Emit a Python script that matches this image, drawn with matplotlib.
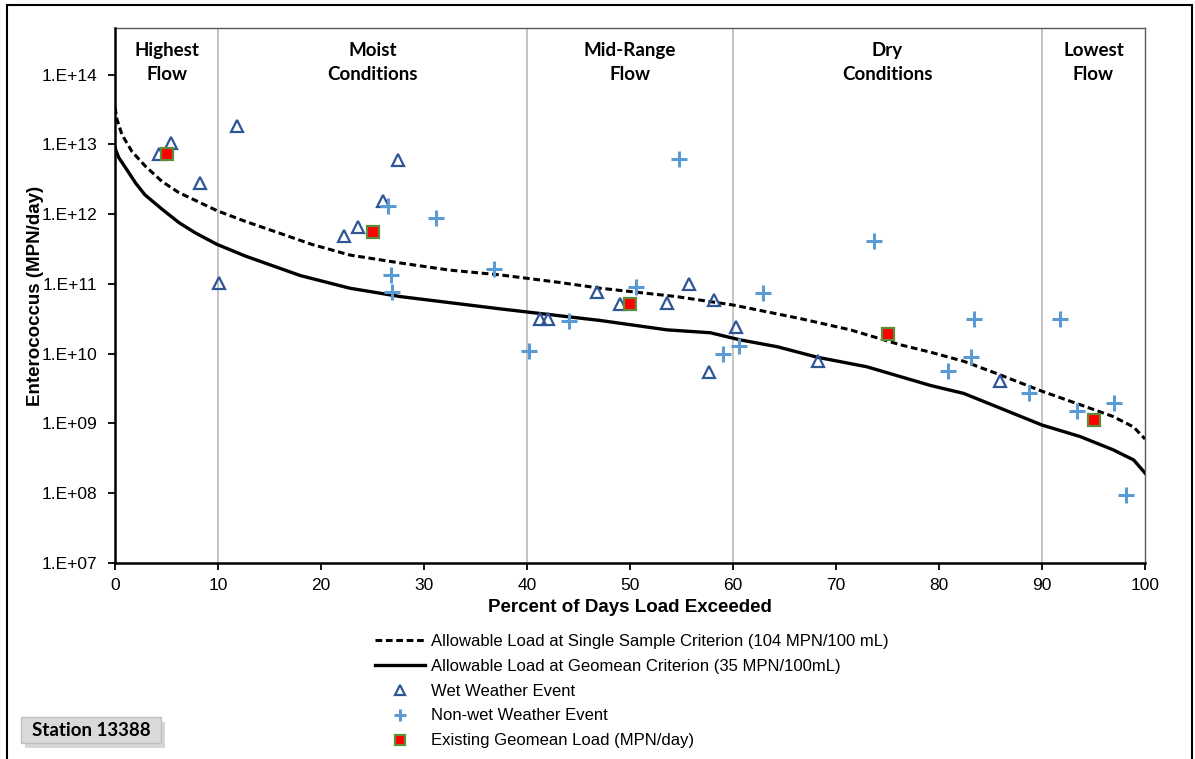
import numpy as np
import matplotlib
matplotlib.use('Agg')
import matplotlib.pyplot as plt
from matplotlib.patches import Rectangle
from matplotlib.lines import Line2D
from matplotlib.ticker import FuncFormatter, FixedLocator

plt.rcParams['font.family'] = ['Liberation Sans', 'DejaVu Sans']

# allowable load curves (percent of days exceeded, MPN/day)
single_x = [0, 0.19, 0.68, 1.65, 2.94, 4.56, 6.18, 7.8, 9.93, 12.65, 15.9, 19.1, 22.8,
            27.7, 32.5, 37.4, 43.2, 47.1, 54.5, 60, 66.5, 71.4, 76.2, 79.2, 82.4, 85.6,
            90, 93.7, 96.9, 98.9, 100]
single_y = [3.4e13, 2.3e13, 1.38e13, 7.9e12, 4.9e12, 2.95e12, 2.05e12, 1.58e12, 1.12e12,
            7.9e11, 5.4e11, 3.7e11, 2.6e11, 2.0e11, 1.58e11, 1.35e11, 1.05e11, 8.7e10,
            6.6e10, 5.0e10, 3.2e10, 2.2e10, 1.35e10, 1.05e10, 7.8e9, 5.2e9, 2.9e9,
            1.86e9, 1.26e9, 8.9e8, 6.0e8]

geomean_x = [0, 0.36, 1.0, 2.0, 2.9, 4.6, 6.2, 7.8, 9.9, 12.7, 15.9, 18.0, 22.8, 27.7,
             32.5, 37.4, 43.2, 47.1, 53.6, 57.8, 60.7, 64.3, 68.2, 73.0, 79.2, 82.4,
             85.6, 90.0, 93.7, 96.9, 98.9, 100]
geomean_y = [8.9e12, 6.5e12, 4.7e12, 2.8e12, 1.9e12, 1.17e12, 7.6e11, 5.4e11, 3.7e11,
             2.5e11, 1.7e11, 1.32e11, 8.7e10, 6.6e10, 5.4e10, 4.4e10, 3.5e10, 3.0e10,
             2.2e10, 2.0e10, 1.58e10, 1.26e10, 8.9e9, 6.5e9, 3.5e9, 2.7e9, 1.74e9,
             9.5e8, 6.5e8, 4.2e8, 3.0e8, 1.95e8]

# samples
wet_x = [4.3, 5.4, 8.3, 11.8, 10.1, 22.2, 23.6, 26.0, 27.5, 41.3, 42.0, 46.8, 49.0,
         53.6, 55.7, 58.2, 60.3, 57.7, 68.3, 85.9]
wet_y = [7.4e12, 1.05e13, 2.8e12, 1.86e13, 1.05e11, 4.9e11, 6.6e11, 1.55e12, 5.9e12,
         3.2e10, 3.2e10, 7.8e10, 5.1e10, 5.4e10, 1.0e11, 5.8e10, 2.4e10, 5.5e9, 7.9e9, 4.1e9]

dry_x = [26.5, 31.2, 26.8, 26.9, 36.8, 54.8, 40.2, 44.1, 50.6, 62.9, 59.0, 60.6, 73.7,
         83.4, 91.7, 83.1, 80.9, 88.7, 93.4, 97.0, 98.2]
dry_y = [1.32e12, 8.9e11, 1.35e11, 7.8e10, 1.66e11, 6.2e12, 1.1e10, 2.95e10, 9.1e10,
         7.4e10, 1.0e10, 1.29e10, 4.2e11, 3.2e10, 3.2e10, 8.9e9, 5.6e9, 2.75e9, 1.5e9,
         1.95e9, 9.3e7]

geo_x = [5, 25, 50, 75, 95]
geo_y = [7.4e12, 5.6e11, 5.1e10, 1.9e10, 1.12e9]

zone_edges = [10, 40, 60, 90]
zone_centers = [5, 25, 50, 75, 95]
zone_labels = ['Highest\nFlow', 'Moist\nConditions', 'Mid-Range\nFlow',
               'Dry\nConditions', 'Lowest\nFlow']

W, H = 1195, 759
fig = plt.figure(figsize=(W / 100, H / 100), dpi=100)
ax = fig.add_axes([115 / W, 1 - 563 / H, 1030 / W, 535 / H])

for e in zone_edges:
    ax.axvline(e, color='#bfbfbf', lw=1.3, zorder=1)

ax.plot(single_x, single_y, color='black', lw=2.2, ls=(0, (2.2, 1.2)), zorder=3)
ax.plot(geomean_x, geomean_y, color='black', lw=2.4, zorder=3)
ax.plot(wet_x, wet_y, ls='none', marker='^', ms=8, mfc='none', mec='#2f5597', mew=1.6, zorder=4)
ax.plot(dry_x, dry_y, ls='none', marker='+', ms=11, mec='#5b9bd5', mew=2.2, zorder=4)
ax.plot(geo_x, geo_y, ls='none', marker='s', ms=8, mfc='#ff0000', mec='#5e8c3a', mew=1.6, zorder=5)

ax.set_yscale('log')
ax.set_xlim(0, 100)
ax.set_ylim(1e7, 10 ** 14.67)
ax.set_xticks(range(0, 101, 10))
ax.yaxis.set_major_locator(FixedLocator([10.0 ** k for k in range(7, 15)]))
ax.yaxis.set_minor_locator(FixedLocator([]))
ax.yaxis.set_major_formatter(FuncFormatter(lambda v, p: '1.E+%02d' % round(np.log10(v))))
ax.tick_params(axis='both', labelsize=12.5, length=5, width=1.3, color='black')
ax.tick_params(axis='x', pad=6)
ax.tick_params(axis='y', pad=8)

for s in ['left', 'bottom']:
    ax.spines[s].set_linewidth(1.8)
    ax.spines[s].set_zorder(6)
for s in ['top', 'right']:
    ax.spines[s].set_linewidth(1.0)
    ax.spines[s].set_color('#595959')

ax.set_xlabel('Percent of Days Load Exceeded', fontsize=13.5, fontweight='bold', labelpad=4)
ax.set_ylabel('Enterococcus (MPN/day)', fontsize=13.5, fontweight='bold', labelpad=-2)

for xc, lab in zip(zone_centers, zone_labels):
    ax.text(xc, 10 ** 14.17, lab, ha='center', va='center', fontsize=13.5,
            fontweight='bold', family=['Lato', 'DejaVu Sans'], linespacing=1.5)

handles = [
    Line2D([], [], color='black', lw=2.2, ls=(0, (2.2, 1.2))),
    Line2D([], [], color='black', lw=2.4),
    Line2D([], [], ls='none', marker='^', ms=7, mfc='none', mec='#2f5597', mew=1.6),
    Line2D([], [], ls='none', marker='+', ms=9, mec='#5b9bd5', mew=2.2),
    Line2D([], [], ls='none', marker='s', ms=7, mfc='#ff0000', mec='#5e8c3a', mew=1.6),
]
labels = ['Allowable Load at Single Sample Criterion (104 MPN/100 mL)',
          'Allowable Load at Geomean Criterion (35 MPN/100mL)',
          'Wet Weather Event',
          'Non-wet Weather Event',
          'Existing Geomean Load (MPN/day)']
fig.legend(handles, labels, loc='upper left', bbox_to_anchor=(375 / W, 1 - 634 / H),
           frameon=False, fontsize=12, handlelength=3.0, handletextpad=0.35,
           labelspacing=0.59, borderpad=0, borderaxespad=0)

# station tag with shadow
fig.patches.append(Rectangle((25 / W, 1 - 748 / H), 140 / W, 26 / H, transform=fig.transFigure,
                             fc='#b0b0b0', ec='none', alpha=0.5, zorder=1))
fig.patches.append(Rectangle((21 / W, 1 - 743 / H), 140 / W, 26 / H, transform=fig.transFigure,
                             fc='#d9d9d9', ec='#bfbfbf', lw=1, zorder=2))
fig.text(91 / W, 1 - 730 / H, 'Station 13388', ha='center', va='center', fontsize=13.5,
         fontweight='bold', family=['Lato', 'DejaVu Sans'], zorder=3)

# outer chart border
fig.patches.append(Rectangle((7 / W, -0.05), 1185 / W, 1.05 - 5 / H, transform=fig.transFigure,
                             fill=False, ec='black', lw=1.5))

fig.savefig('out.png', dpi=100)
